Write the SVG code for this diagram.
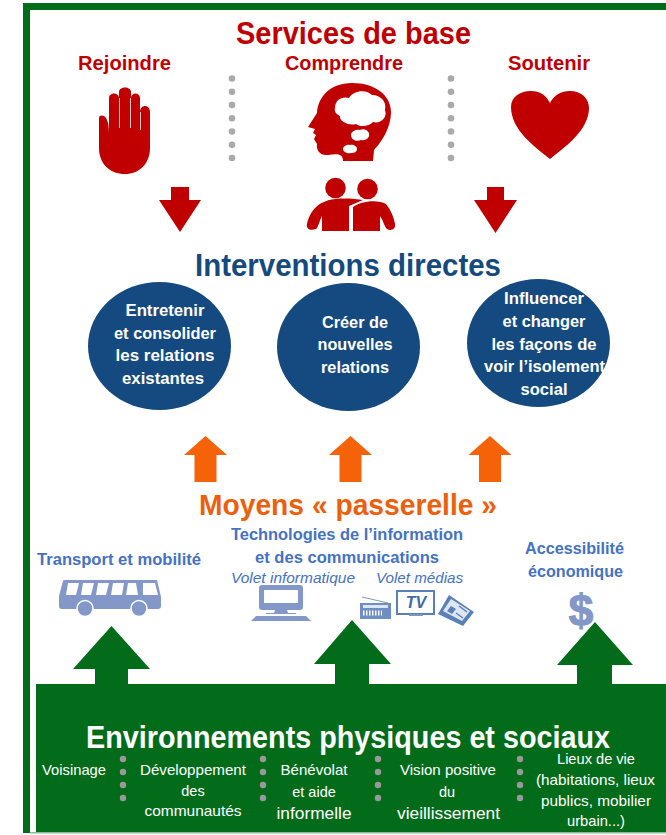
<svg xmlns="http://www.w3.org/2000/svg" width="666" height="835" viewBox="0 0 666 835">
<style>
text{font-family:"Liberation Sans",Arial,sans-serif;text-anchor:middle}
.red{fill:#c00000;font-weight:bold}
.navy{fill:#154a80;font-weight:bold}
.wt{fill:#fff;font-weight:bold;font-size:16px}
.blue{fill:#4472c4;font-weight:bold;font-size:16.500px}
.it{fill:#4472c4;font-style:italic;font-size:14px}
.lt{fill:#fff;font-size:14.500px}
.g{fill:#aaa}
.g2{fill:#999}
.ic{fill:#8397c8}
.r{fill:#c00000}
.gr{fill:#036c1b}
.or{fill:#f56207}
</style>
<defs>
<g id="vdots" class="g"><circle cy="78.500" r="3.300"/><circle cy="91.700" r="3.300"/><circle cy="105" r="3.300"/><circle cy="118.200" r="3.300"/><circle cy="131.500" r="3.300"/><circle cy="144.700" r="3.300"/><circle cy="158" r="3.300"/></g>
<g id="gdots" class="g2"><circle cy="759" r="3.200"/><circle cy="772" r="3.200"/><circle cy="785" r="3.200"/><circle cy="798" r="3.200"/></g>
<path id="aup" d="M0 0L21.500 19H11V46H-11V19H-21.500Z"/>
</defs>
<rect id="page" width="666" height="835" fill="#fff"/>
<g id="frame">
<path class="gr" d="M23 3H666V10H30V833H23Z"/>
<rect x="30" y="832" width="636" height="1.500" fill="#8fbf9a"/>
</g>
<g id="services">
<text class="red" x="353.500" y="44" font-size="32" textLength="235" lengthAdjust="spacingAndGlyphs">Services de base</text>
</g>
<g id="rejoindre">
<text class="red" x="124.500" y="70" font-size="21" textLength="93" lengthAdjust="spacingAndGlyphs">Rejoindre</text>
<path class="r" d="M99 118C99 115 102 115 104 116C107 118 109 123 109 134V98C109 92 119 92 119 98V92C119 86 131 86 131 92V98C131 92 140 92 140 98V112C140 104 150 104 150 112V148C150 164 139 174 125 174C110 174 99 164 99 148Z"/>
<path d="M119.500 98V128M130.500 98V128M140.500 112V130" stroke="#f3c8c8" stroke-width="1" fill="none"/>
</g>
<use href="#vdots" x="232"/>
<g id="comprendre">
<text class="red" x="344" y="70" font-size="21" textLength="118" lengthAdjust="spacingAndGlyphs">Comprendre</text>
<path class="r" d="M308 127L317 113C318 97 330 83 352 83C376 83 391 96 391 112C391 128 381 143 374 150L373 161H343C343 153 336 154 328 155C320 156 316 150 317 144L314 139L316 135L313 133L315 129Z"/>
<path fill="#fff" d="M335 108C335 99 343 96 349 98C353 90 367 89 372 95C381 95 387 102 385 110C388 118 380 124 373 122C369 127 359 127 356 124C350 126 339 122 340 116C336 114 334 111 335 108ZM351 135C351 131 357 129 360 130C364 128 369 131 369 134C370 138 365 141 361 140C357 142 351 140 351 135ZM343 149C343 146 348 144 350 145C353 144 357 146 357 149C357 152 354 153 351 153C348 154 343 152 343 149Z"/>
<g class="r"><circle cx="335.500" cy="188" r="10.300"/><circle cx="367.500" cy="189" r="10.300"/>
<path d="M349 231H322V216C320 219 318 228 316 229C310 231 306 229 307 224C310 211 318 201 335 199C346 198 356 199 363 200L349 206Z"/>
<path d="M353 207C360 201 378 199 386 204C391 210 394 218 395 224C396 230 390 231 387 229C385 228 383 220 380 216V231H353Z"/></g>
</g>
<use href="#vdots" x="451"/>
<g id="soutenir">
<text class="red" x="549" y="70" font-size="21" textLength="82" lengthAdjust="spacingAndGlyphs">Soutenir</text>
<path class="r" d="M550 159C535 147 511 130 511 107C511 97 520 91 531 91C540 91 546 95 550 103C554 95 561 91 570 91C581 91 589 98 589 108C589 130 565 147 550 159Z"/>
</g>
<g id="connectors">
<path class="r" d="M171 187H189V200H201L180 232L159 200H171Z"/>
<path class="r" d="M487 187H504V200H517L495.500 233L474 200H487Z"/>
<use href="#aup" class="or" x="205.500" y="436"/>
<use href="#aup" class="or" x="350.500" y="436"/>
<use href="#aup" class="or" x="490" y="436"/>
<path class="gr" d="M111.500 626L150 669H128V690H95V669H73Z"/>
<path class="gr" d="M352 620L391 664H369V690H335V664H314Z"/>
<path class="gr" d="M595 622L633 665H612V690H577V665H557Z"/>
</g>
<g id="interventions">
<text class="navy" x="348" y="276" font-size="32" textLength="306" lengthAdjust="spacingAndGlyphs">Interventions directes</text>
</g>
<g id="n1">
<ellipse cx="159.500" cy="346" rx="71.500" ry="64" fill="#154a80"/>
<text class="wt" x="165" y="316" textLength="79" lengthAdjust="spacingAndGlyphs">Entretenir</text>
<text class="wt" x="165" y="339" textLength="102" lengthAdjust="spacingAndGlyphs">et consolider</text>
<text class="wt" x="165" y="361" textLength="99" lengthAdjust="spacingAndGlyphs">les relations</text>
<text class="wt" x="163" y="384" textLength="82" lengthAdjust="spacingAndGlyphs">existantes</text>
</g>
<g id="n2">
<ellipse cx="348.500" cy="347" rx="71.500" ry="64" fill="#154a80"/>
<text class="wt" x="355" y="328" textLength="66" lengthAdjust="spacingAndGlyphs">Créer de</text>
<text class="wt" x="355" y="350" textLength="75" lengthAdjust="spacingAndGlyphs">nouvelles</text>
<text class="wt" x="355" y="373" textLength="68" lengthAdjust="spacingAndGlyphs">relations</text>
</g>
<g id="n3">
<ellipse cx="538.500" cy="343" rx="71.500" ry="64" fill="#154a80"/>
<text class="wt" x="544" y="304" textLength="80" lengthAdjust="spacingAndGlyphs">Influencer</text>
<text class="wt" x="544" y="327" textLength="83" lengthAdjust="spacingAndGlyphs">et changer</text>
<text class="wt" x="544" y="350" textLength="105" lengthAdjust="spacingAndGlyphs">les façons de</text>
<text class="wt" x="544.500" y="372" textLength="121" lengthAdjust="spacingAndGlyphs">voir l’isolement</text>
<text class="wt" x="544" y="395" textLength="47" lengthAdjust="spacingAndGlyphs">social</text>
</g>
<g id="moyens">
<text x="348" y="515" font-size="30" font-weight="bold" fill="#ed5f0c" textLength="298" lengthAdjust="spacingAndGlyphs">Moyens « passerelle »</text>
</g>
<g id="transport">
<text class="blue" x="119" y="565" textLength="164" lengthAdjust="spacingAndGlyphs">Transport et mobilité</text>
<path class="ic" d="M63 581Q63 580 65 580H157L161 597V606Q161 609 158 609H62Q59 609 59 606V596Z"/>
<path fill="#fff" d="M68 583H79L76 595H66ZM83 583H94L91 595H81ZM98 583H109L106 595H96ZM113 583H124L122 595H111ZM128 583H136L138 595H126ZM143 583H155L158 595H143Z"/>
<circle class="ic" cx="85" cy="608.500" r="8" stroke="#fff" stroke-width="1.500"/><circle class="ic" cx="139" cy="608.500" r="8" stroke="#fff" stroke-width="1.500"/>
</g>
<g id="tic">
<text class="blue" x="347" y="540" textLength="232" lengthAdjust="spacingAndGlyphs">Technologies de l’information</text>
<text class="blue" x="347" y="563" textLength="184" lengthAdjust="spacingAndGlyphs">et des communications</text>
<text class="it" x="293" y="583" textLength="124" lengthAdjust="spacingAndGlyphs">Volet informatique</text>
<text class="it" x="419.500" y="583" textLength="87" lengthAdjust="spacingAndGlyphs">Volet médias</text>
<path class="ic" fill-rule="evenodd" d="M262 585H300Q303 585 303 588V607Q303 610 300 610H287L288 613H296V614H266V613H274L275 610H262Q259 610 259 607V588Q259 585 262 585ZM264 590V603H298V590Z"/>
<path class="ic" d="M256 616H306L311 621H251Z"/>
<g id="radio"><path d="M362 597L388 603" stroke="#7f96c4" stroke-width="1" fill="none"/><rect x="360" y="603" width="31" height="16" fill="#6f8fc4"/><rect x="363" y="605" width="25" height="3" fill="#dfe6f3"/><path d="M363 613H382" stroke="#fff" stroke-width="5" stroke-dasharray="1.500 1.500"/></g>
<g id="tv"><rect x="397" y="591" width="37" height="23" fill="#fff" stroke="#5b80b8" stroke-width="2"/><text x="416" y="608" font-size="16" font-weight="bold" font-style="italic" fill="#3f6aa8">TV</text><rect x="409" y="614" width="14" height="2" fill="#7f96c4"/></g>
<g id="news"><path d="M449 595L474 612L463 626L438 614Z" fill="#5b80b8"/><path d="M451 599L470 611L462 621L443 611Z" fill="#dfe6f3"/><path d="M451 606L456 609L452 614L447 611Z" fill="#5b80b8"/><path d="M459 606L467 612M456 613L463 618" stroke="#5b80b8" stroke-width="1.500"/></g>
</g>
<g id="access">
<text class="blue" x="574.500" y="554" textLength="99" lengthAdjust="spacingAndGlyphs">Accessibilité</text>
<text class="blue" x="575.500" y="577" textLength="95" lengthAdjust="spacingAndGlyphs">économique</text>
<text x="581" y="626" font-size="44" font-weight="bold" fill="#8397c8" stroke="#8397c8" stroke-width="1.200">$</text>
</g>
<g id="environnements">
<rect class="gr" x="36" y="684" width="630" height="148"/>
<text x="348" y="748" font-size="31" font-weight="bold" fill="#fff" textLength="524" lengthAdjust="spacingAndGlyphs">Environnements physiques et sociaux</text>
<use href="#gdots" x="123"/><use href="#gdots" x="263"/><use href="#gdots" x="378"/><use href="#gdots" x="520"/>
<text class="lt" x="74" y="775" textLength="64" lengthAdjust="spacingAndGlyphs">Voisinage</text>
<text class="lt" x="193" y="775" textLength="106" lengthAdjust="spacingAndGlyphs">Développement</text>
<text class="lt" x="193" y="796">des</text>
<text class="lt" x="193" y="816" textLength="97" lengthAdjust="spacingAndGlyphs">communautés</text>
<text class="lt" x="314" y="775" textLength="67" lengthAdjust="spacingAndGlyphs">Bénévolat</text>
<text class="lt" x="314" y="797">et aide</text>
<text class="lt" x="314" y="819" style="font-size:16px" textLength="75" lengthAdjust="spacingAndGlyphs">informelle</text>
<text class="lt" x="448" y="775" textLength="96" lengthAdjust="spacingAndGlyphs">Vision positive</text>
<text class="lt" x="447" y="797">du</text>
<text class="lt" x="448.500" y="819" style="font-size:16px" textLength="103" lengthAdjust="spacingAndGlyphs">vieillissement</text>
<text class="lt" x="596" y="764" textLength="78" lengthAdjust="spacingAndGlyphs">Lieux de vie</text>
<text class="lt" x="595.500" y="785" textLength="119" lengthAdjust="spacingAndGlyphs">(habitations, lieux</text>
<text class="lt" x="596" y="806" textLength="110" lengthAdjust="spacingAndGlyphs">publics, mobilier</text>
<text class="lt" x="596" y="826" textLength="58" lengthAdjust="spacingAndGlyphs">urbain...)</text>
</g>
</svg>
